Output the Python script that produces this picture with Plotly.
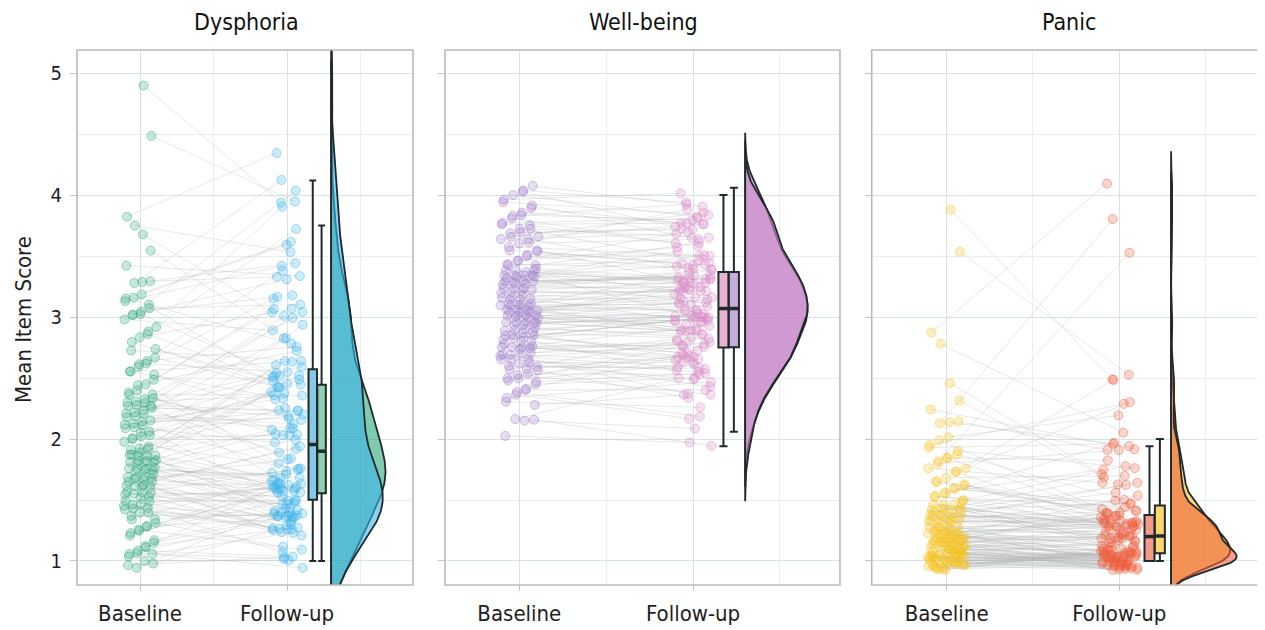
import numpy as np
import plotly.graph_objects as go

# ---------------- data ----------------
panel_titles = ["Dysphoria", "Well-being", "Panic"]
x_labels = ["Baseline", "Follow-up"]
y_ticks = [1, 2, 3, 4, 5]

dysphoria_baseline = [
    1.0, 1.0, 1.0, 1.0, 1.0, 1.0, 1.05, 1.05, 1.1, 1.1, 1.12, 1.15, 1.18, 1.2, 1.22, 1.25,
    1.28, 1.3, 1.3, 1.32, 1.35, 1.35, 1.38, 1.4, 1.4, 1.42, 1.42, 1.45, 1.45, 1.47, 1.48, 1.48, 1.5,
    1.52, 1.52, 1.55, 1.55, 1.55, 1.57, 1.58, 1.6, 1.6, 1.6, 1.62, 1.62, 1.63, 1.65, 1.65, 1.67,
    1.68, 1.7, 1.7, 1.7, 1.72, 1.72, 1.73, 1.75,
    1.76, 1.77, 1.78, 1.78, 1.8, 1.8, 1.8, 1.81, 1.82, 1.83, 1.84, 1.85, 1.85, 1.86, 1.87, 1.88,
    1.89, 1.9, 1.9, 1.93, 1.95, 1.98, 2.0,
    2.02, 2.03, 2.05, 2.05, 2.07, 2.08, 2.1, 2.1, 2.12, 2.13, 2.15, 2.15, 2.17, 2.18, 2.2, 2.2,
    2.22, 2.23, 2.25,
    2.26, 2.27, 2.28, 2.3, 2.3, 2.32, 2.33, 2.34, 2.35, 2.37, 2.38, 2.4, 2.43, 2.45,
    2.5, 2.52, 2.55, 2.55, 2.58, 2.6, 2.62, 2.65, 2.68, 2.7,
    2.77, 2.8, 2.83, 2.85, 2.88, 2.9, 2.95, 3.0,
    3.02, 3.05, 3.05, 3.08, 3.1, 3.1, 3.12, 3.15, 3.2,
    3.25, 3.3, 3.35, 3.4,
    3.58, 3.62, 3.75, 3.88,
    4.45, 4.92,
]
dysphoria_followup = [
    1.0, 1.0, 1.0, 1.0, 1.03, 1.07, 1.1, 1.13, 1.16, 1.19, 1.22, 1.25,
    1.26, 1.27, 1.28, 1.29, 1.3, 1.3, 1.31, 1.32, 1.33, 1.34, 1.35, 1.35, 1.36, 1.37, 1.38, 1.39,
    1.4, 1.4, 1.41, 1.42, 1.43, 1.44, 1.45, 1.46, 1.48, 1.5,
    1.51, 1.52, 1.52, 1.53, 1.54, 1.55, 1.55, 1.56, 1.57, 1.57, 1.58, 1.59, 1.6, 1.6, 1.61, 1.62,
    1.62, 1.63, 1.64, 1.65, 1.65, 1.66, 1.67, 1.68, 1.69, 1.7, 1.71, 1.72, 1.74, 1.76, 1.78, 1.8,
    1.83, 1.86, 1.89, 1.92, 1.95,
    1.96, 1.98, 2.0, 2.02, 2.03, 2.05, 2.07, 2.08, 2.1, 2.12, 2.13, 2.15, 2.17, 2.18, 2.2, 2.22,
    2.25, 2.27, 2.28, 2.3, 2.32, 2.35, 2.37, 2.38, 2.4, 2.42, 2.43, 2.45, 2.47, 2.5, 2.5, 2.51,
    2.52, 2.53, 2.53, 2.54, 2.55,
    2.58, 2.6, 2.62, 2.65, 2.68, 2.72, 2.77, 2.8, 2.82, 2.85, 2.88, 2.9, 2.95, 3.0, 3.02, 3.05,
    3.07, 3.1, 3.12, 3.15, 3.17, 3.2, 3.27, 3.3, 3.3, 3.33, 3.4, 3.5, 3.58, 3.6, 3.65, 3.75,
    3.87, 3.95, 4.02, 4.08, 4.12, 4.33,
]
wellbeing_baseline = [
    2.06, 2.1, 2.15, 2.22,
    2.27, 2.3, 2.33, 2.35, 2.38, 2.4, 2.42, 2.45, 2.47, 2.5,
    2.51, 2.52, 2.53, 2.55, 2.55, 2.57, 2.58, 2.6, 2.6, 2.62, 2.63, 2.65, 2.65, 2.67, 2.68, 2.7,
    2.7, 2.71, 2.72, 2.73, 2.74, 2.74, 2.75, 2.75,
    2.76, 2.77, 2.78, 2.8, 2.8, 2.82, 2.83, 2.84, 2.85, 2.86, 2.87, 2.88, 2.9, 2.9, 2.91, 2.92,
    2.93, 2.94, 2.95, 2.96, 2.97, 2.98, 2.98, 2.99, 3.0, 3.0,
    3.01, 3.02, 3.02, 3.03, 3.04, 3.04, 3.05, 3.05, 3.06, 3.06, 3.07, 3.07, 3.08, 3.09, 3.1, 3.1,
    3.11, 3.12, 3.13, 3.14, 3.15, 3.16, 3.17, 3.18, 3.19, 3.2, 3.21, 3.22, 3.24, 3.25,
    3.26, 3.27, 3.28, 3.28, 3.29, 3.3, 3.3, 3.31, 3.32, 3.32, 3.33, 3.33, 3.34, 3.35, 3.35, 3.36,
    3.36, 3.37, 3.37, 3.39, 3.4, 3.42, 3.43, 3.45, 3.47, 3.5,
    3.52, 3.53, 3.55, 3.57, 3.58, 3.6, 3.6, 3.62, 3.63, 3.65, 3.67, 3.68, 3.7, 3.7, 3.72, 3.73, 3.75,
    3.77, 3.8, 3.82, 3.85, 3.87, 3.9, 3.92, 3.95, 3.97, 4.0,
    4.02, 4.04, 4.06,
]
wellbeing_followup = [
    1.94, 2.0, 2.08, 2.15, 2.22,
    2.28, 2.3, 2.32, 2.35, 2.38, 2.4, 2.43, 2.45, 2.48, 2.5,
    2.51, 2.53, 2.54, 2.55, 2.57, 2.58, 2.6, 2.6, 2.62, 2.63, 2.64, 2.65, 2.66, 2.67, 2.68, 2.7,
    2.7, 2.71, 2.72, 2.73, 2.74, 2.74, 2.75,
    2.75, 2.76, 2.78, 2.79, 2.8, 2.81, 2.82, 2.84, 2.85, 2.86, 2.87, 2.88, 2.89, 2.9, 2.91, 2.92,
    2.93, 2.94, 2.95, 2.96, 2.97, 2.98, 2.99, 3.0, 3.0,
    3.01, 3.01, 3.02, 3.03, 3.03, 3.04, 3.05, 3.05, 3.06, 3.06, 3.07, 3.07, 3.07, 3.08, 3.09, 3.1,
    3.1, 3.11, 3.12, 3.13, 3.14, 3.15, 3.16, 3.17, 3.18, 3.19, 3.2, 3.21, 3.22, 3.24, 3.25,
    3.26, 3.27, 3.27, 3.28, 3.29, 3.3, 3.3, 3.31, 3.32, 3.32, 3.33, 3.33, 3.34, 3.35, 3.35, 3.36,
    3.36, 3.37, 3.37, 3.38, 3.4, 3.42, 3.43, 3.45, 3.46, 3.48, 3.5,
    3.52, 3.54, 3.55, 3.57, 3.58, 3.6, 3.61, 3.62, 3.64, 3.65, 3.67, 3.68, 3.7, 3.71, 3.72, 3.74, 3.75,
    3.77, 3.79, 3.8, 3.82, 3.84, 3.85, 3.87, 3.9, 3.92, 3.95, 3.98, 4.0,
]
panic_baseline = [
    1.0, 1.0, 1.0, 1.0, 1.0, 1.0, 1.0, 1.0, 1.0, 1.0, 1.0, 1.0, 1.0, 1.0, 1.0, 1.0, 1.0,
    1.0, 1.0, 1.0, 1.0, 1.0, 1.0, 1.0, 1.0, 1.0, 1.0, 1.0, 1.0, 1.0, 1.0, 1.0, 1.0, 1.0,
    1.03, 1.04, 1.05, 1.06, 1.07,
    1.08, 1.08, 1.09, 1.1, 1.1, 1.1, 1.11, 1.12, 1.12, 1.12, 1.13, 1.13, 1.14, 1.14, 1.15, 1.15,
    1.15, 1.16, 1.16, 1.16, 1.17, 1.17, 1.17, 1.17, 1.18, 1.18, 1.18, 1.18, 1.19, 1.19, 1.19, 1.19,
    1.2, 1.2, 1.2, 1.2,
    1.21, 1.22, 1.22, 1.23, 1.24, 1.25, 1.25, 1.26, 1.27, 1.28, 1.28, 1.29, 1.3, 1.3, 1.31, 1.32,
    1.33, 1.33, 1.34, 1.35, 1.35, 1.36, 1.37, 1.37, 1.38, 1.39, 1.4, 1.4, 1.41, 1.41, 1.42, 1.42,
    1.43, 1.43, 1.44, 1.44, 1.44,
    1.46, 1.48, 1.5, 1.52, 1.53, 1.55, 1.57, 1.58, 1.6, 1.62, 1.63, 1.65, 1.67, 1.68, 1.7, 1.72,
    1.75, 1.77, 1.78, 1.8, 1.82, 1.85, 1.88, 1.9, 1.93, 1.95, 1.98, 2.0, 2.1, 2.15, 2.2, 2.22,
    2.35, 2.4, 2.78, 2.93, 3.5, 3.9,
]
panic_followup = [
    1.0, 1.0, 1.0, 1.0, 1.0, 1.0, 1.0, 1.0, 1.0, 1.0, 1.0, 1.0, 1.0, 1.0, 1.0,
    1.0, 1.0, 1.0, 1.0, 1.0, 1.0, 1.0, 1.0, 1.0, 1.0, 1.0, 1.0, 1.0, 1.0, 1.0,
    1.0, 1.0, 1.0, 1.0, 1.0, 1.0, 1.0, 1.0, 1.0, 1.0, 1.0, 1.0, 1.0, 1.0, 1.0,
    1.02, 1.03, 1.04, 1.05, 1.05, 1.06, 1.07, 1.08, 1.08, 1.09, 1.1, 1.1, 1.11, 1.12, 1.12, 1.13,
    1.14, 1.14, 1.15, 1.15, 1.16, 1.16, 1.17, 1.17, 1.18, 1.18, 1.19, 1.19, 1.2, 1.2,
    1.2, 1.21, 1.21, 1.22, 1.22, 1.23, 1.23, 1.24, 1.24, 1.25, 1.25, 1.26, 1.26, 1.27, 1.27, 1.28,
    1.28, 1.29, 1.29, 1.3, 1.3, 1.31, 1.31, 1.32, 1.32, 1.33, 1.33, 1.33, 1.34, 1.34, 1.35, 1.35,
    1.35, 1.36, 1.36, 1.37, 1.37,
    1.38, 1.4, 1.42, 1.43, 1.45, 1.47, 1.48, 1.5, 1.52, 1.55, 1.57, 1.58, 1.6, 1.62, 1.65, 1.67,
    1.7, 1.72, 1.75, 1.78, 1.8, 1.83, 1.85, 1.88, 1.9, 1.92, 1.94, 2.0, 2.1, 2.2, 2.32, 2.33,
    2.45, 2.5, 2.6, 3.57, 3.8, 4.08,
]

panel_data = [
    (dysphoria_baseline, dysphoria_followup),
    (wellbeing_baseline, wellbeing_followup),
    (panic_baseline, panic_followup),
]

# ---------------- styles / layout ----------------
FONT = "DejaVu Sans Condensed, Liberation Sans Narrow, Arial Narrow, Liberation Sans, sans-serif"
DARK = "#1f2a2b"
PAGE_OFF = 8                      # the page body margin that shifts the figure
W, H = 1265 - PAGE_OFF, 630 - PAGE_OFF


def px_x(p):
    return (p - PAGE_OFF) / W


def px_y(p):
    return 1 - (p - PAGE_OFF) / H


styles = [
    dict(base=(44, 168, 122), follow=(58, 180, 234), box_base="#8fd0b0", box_follow="#88c9ea",
         spread=80, vwidth=0.37),
    dict(base=(160, 124, 204), follow=(217, 138, 198), box_base="#c6aedb", box_follow="#eab3d3",
         spread=40, vwidth=0.36),
    dict(base=(247, 194, 27), follow=(240, 96, 63), box_base="#fbd66c", box_follow="#f2998a",
         spread=70, vwidth=0.38),
]
domains_x = [[px_x(77), px_x(413)], [px_x(445), px_x(840)], [px_x(871.7), 1.0]]
ranges_x = [[0.571, 2.857], [0.572, 2.846], [0.566, 2.844]]
domain_y = [px_y(585), px_y(50)]
range_y = [0.803, 5.19]
title_x = [246, 643, 1069]
X_FOLLOW_BOX, X_BASE_BOX, BOX_W = 2.175, 2.235, 0.058
X_VIOLIN = 2.30
JIT_X, JIT_Y = 0.11, 0.075


def rgba(c, a):
    return f"rgba({c[0]},{c[1]},{c[2]},{a})"


def kde(vals):
    v = np.asarray(vals, float)
    n = v.size
    sd = v.std(ddof=1)
    q75, q25 = np.percentile(v, [75, 25])
    bw = 0.9 * min(sd, (q75 - q25) / 1.34) * n ** -0.2
    grid = np.linspace(v.min() - 3 * bw, v.max() + 3 * bw, 512)
    dens = np.exp(-0.5 * ((grid[:, None] - v[None, :]) / bw) ** 2).sum(1) / (n * bw * np.sqrt(2 * np.pi))
    return grid, dens


def box_stats(vals):
    v = np.sort(np.asarray(vals, float))
    q1, med, q3 = np.percentile(v, [25, 50, 75])
    iqr = q3 - q1
    lo = v[v >= q1 - 1.5 * iqr].min()
    hi = v[v <= q3 + 1.5 * iqr].max()
    return q1, med, q3, lo, hi


def frac_seq(n, a, b):
    i = np.arange(n)
    return (i * a + b) % 1.0


fig = go.Figure()
shapes = []
annotations = []

for k, ((base, follow), st) in enumerate(zip(panel_data, styles)):
    ax = "" if k == 0 else str(k + 1)
    xa, ya = "x" + ax, "y" + ax
    b = np.sort(np.asarray(base, float))
    f_sorted = np.sort(np.asarray(follow, float))
    n = b.size
    i = np.arange(n)
    # pairing of participants (baseline rank -> follow-up rank)
    key = i + st["spread"] * (((i * i) * 0.6180339887 + i * 0.4142135) % 1.0 - 0.5)
    perm = np.argsort(np.argsort(key))
    f = f_sorted[perm]

    xb = 1 + JIT_X * (2 * frac_seq(n, 0.7548776662, 0.13) - 1)
    xf = 2 + JIT_X * (2 * frac_seq(n, 0.5698402910, 0.41) - 1)
    yb = b + JIT_Y * (2 * frac_seq(n, 0.6180339887, 0.27) - 1)
    yf = f + JIT_Y * (2 * frac_seq(n, 0.4142135624, 0.71) - 1)

    # connecting lines
    for j in range(n):
        fig.add_trace(go.Scatter(x=[xb[j], xf[j]], y=[yb[j], yf[j]], mode="lines",
                                 line=dict(color="rgba(176,178,180,0.3)", width=1),
                                 hoverinfo="skip", showlegend=False, xaxis=xa, yaxis=ya))
    # points
    for xs, ys, c in ((xb, yb, st["base"]), (xf, yf, st["follow"])):
        fig.add_trace(go.Scatter(x=xs, y=ys, mode="markers",
                                 marker=dict(size=9, color=rgba(c, 0.25),
                                             line=dict(color=rgba(c, 0.45), width=1)),
                                 hoverinfo="skip", showlegend=False, xaxis=xa, yaxis=ya))
    # half violins
    gb, db = kde(b)
    gf, df = kde(f_sorted)
    scale = st["vwidth"] / max(db.max(), df.max())
    for g, d, c in ((gb, db, st["base"]), (gf, df, st["follow"])):
        vx = np.concatenate([X_VIOLIN + d * scale, [X_VIOLIN, X_VIOLIN]])
        vy = np.concatenate([g, [g[-1], g[0]]])
        fig.add_trace(go.Scatter(x=vx, y=vy, mode="lines", fill="toself",
                                 fillcolor=rgba(c, 0.6), line=dict(color=DARK, width=1.8),
                                 hoverinfo="skip", showlegend=False, xaxis=xa, yaxis=ya))
    # boxes
    for vals, xpos, fc in ((f_sorted, X_FOLLOW_BOX, st["box_follow"]), (b, X_BASE_BOX, st["box_base"])):
        q1, med, q3, lo, hi = box_stats(vals)
        fig.add_trace(go.Box(x=[xpos], q1=[q1], median=[med], q3=[q3], lowerfence=[lo],
                             upperfence=[hi], width=BOX_W, fillcolor=fc,
                             line=dict(color=DARK, width=2), whiskerwidth=0.8, boxpoints=False,
                             hoverinfo="skip", showlegend=False, xaxis=xa, yaxis=ya))
        fig.add_trace(go.Scatter(x=[xpos - BOX_W / 2, xpos + BOX_W / 2], y=[med, med], mode="lines",
                                 line=dict(color=DARK, width=3.5), hoverinfo="skip",
                                 showlegend=False, xaxis=xa, yaxis=ya))

    fig.update_layout({
        "xaxis" + ax: dict(domain=domains_x[k], range=ranges_x[k], anchor=ya, automargin=False,
                           tickmode="array", tickvals=[1, 2], ticktext=x_labels,
                           tickfont=dict(size=22, color="#1e1e1e", family=FONT),
                           ticks="outside", ticklen=5, tickcolor="#c4c4c4", tickwidth=1.2,
                           ticklabelstandoff=4,
                           showgrid=True, gridcolor="#d9e2e8", gridwidth=1.1,
                           minor=dict(tickvals=[1.5, 2.5], showgrid=True, gridcolor="#eaeef1",
                                      gridwidth=0.8, ticks=""),
                           zeroline=False, showline=False, fixedrange=True),
        "yaxis" + ax: dict(domain=domain_y, range=range_y, anchor=xa, automargin=False,
                           tickmode="array", tickvals=y_ticks, showticklabels=(k == 0),
                           tickfont=dict(size=20, color="#1e1e1e", family=FONT),
                           ticks="outside", ticklen=6, tickcolor="#c4c4c4", tickwidth=1.2,
                           ticklabelstandoff=4,
                           showgrid=True, gridcolor="#d9e2e8", gridwidth=1.1,
                           minor=dict(tickvals=[1.5, 2.5, 3.5, 4.5], showgrid=True,
                                      gridcolor="#eaeef1", gridwidth=0.8, ticks=""),
                           zeroline=False, showline=False, fixedrange=True),
    })
    shapes.append(dict(type="rect", xref=xa + " domain", yref=ya + " domain",
                       x0=0, x1=(1.0 if k < 2 else 1.05), y0=0, y1=1,
                       line=dict(color="#b9b9b9", width=1.6), layer="above"))
    annotations.append(dict(text=panel_titles[k], xref="paper", yref="paper",
                            x=px_x(title_x[k]), y=px_y(22),
                            xanchor="center", yanchor="middle", showarrow=False,
                            font=dict(size=23, color="#111111", family=FONT)))

annotations.append(dict(text="Mean Item Score", xref="paper", yref="paper",
                        x=px_x(23), y=px_y(320), textangle=-90,
                        xanchor="center", yanchor="middle", showarrow=False,
                        font=dict(size=22, color="#1e1e1e", family=FONT)))

fig.update_layout(width=W, height=H, margin=dict(l=0, r=0, t=0, b=0, autoexpand=False),
                  paper_bgcolor="white", plot_bgcolor="white", showlegend=False,
                  boxmode="overlay", shapes=shapes, annotations=annotations,
                  font=dict(family=FONT, color="#1e1e1e"))

fig.write_html("out.html")
